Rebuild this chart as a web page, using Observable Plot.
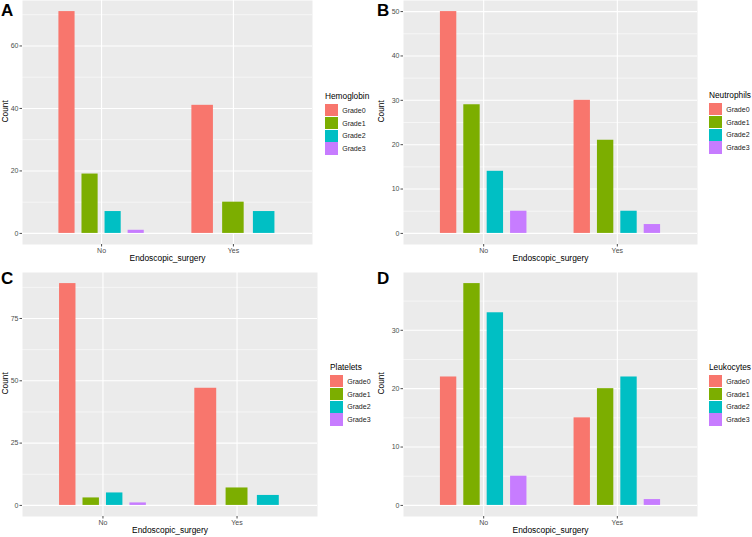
<!DOCTYPE html>
<html>
<head>
<meta charset="utf-8">
<script src="https://cdn.jsdelivr.net/npm/d3@7"></script>
<script src="https://cdn.jsdelivr.net/npm/@observablehq/plot@0.6"></script>
<style>
  html, body { margin: 0; padding: 0; background: #fff; }
  #fig { position: relative; width: 752px; height: 537px; overflow: hidden; font-family: "Liberation Sans", Arial, sans-serif; }
  .panel { position: absolute; width: 376px; }
  .letter { position: absolute; font-weight: bold; font-size: 17px; color: #000; line-height: 1; }
  .legend { position: absolute; font-size: 7px; color: #1a1a1a; }
  .legend .lt { font-size: 8.3px; color: #000; margin-bottom: 3px; white-space: nowrap; }
  .legend .row { display: flex; align-items: center; height: 12.7px; }
  .legend .key { width: 12.7px; height: 12.2px; margin-right: 4.5px; }
</style>
</head>
<body>
<div id="fig"></div>
<script>
// ---- data ----
const groups = ["No", "Yes"];
const grades = ["Grade0", "Grade1", "Grade2", "Grade3"];
const gradeColors = ["#F8766D", "#7CAE00", "#00BFC4", "#C77CFF"];

const hemoglobinNo = [71, 19, 7, 1];
const hemoglobinYes = [41, 10, 7, 0];
const neutrophilsNo = [50, 29, 14, 5];
const neutrophilsYes = [30, 21, 5, 2];
const plateletsNo = [89, 3, 5, 1];
const plateletsYes = [47, 7, 4, 0];
const leukocytesNo = [22, 38, 33, 5];
const leukocytesYes = [15, 20, 22, 1];

const ticksA = [0, 20, 40, 60];
const ticksB = [0, 10, 20, 30, 40, 50];
const ticksC = [0, 25, 50, 75];
const ticksD = [0, 10, 20, 30];

// ggplot-like dodge2 (width 0.7, padding 0.3) over present bars
function dodgeRows(no, yes) {
  const rows = [];
  [no, yes].forEach((vals, gi) => {
    const present = grades.map((g, k) => ({grade: g, count: vals[k]})).filter(d => d.count > 0);
    const n = present.length, slot = 0.7 / n, half = slot * 0.7 / 2;
    present.forEach((d, j) => {
      const c = (gi + 1) - 0.35 + (j + 0.5) * slot;
      rows.push({group: groups[gi], grade: d.grade, count: d.count, x1: c - half, x2: c + half});
    });
  });
  return rows;
}

function minorTicks(major, lo, hi) {
  const step = major[1] - major[0];
  const out = [];
  for (let v = major[0] - step / 2; v <= hi; v += step) if (v >= lo) out.push(v);
  return out;
}

const fig = document.getElementById("fig");

function panel({letter, title, no, yes, ticks, left, top, height, mL, mR, mT, mB, legendX, legendY}) {
  const rows = dodgeRows(no, yes);
  const max = d3.max(rows, d => d.count);
  const lo = -0.05 * max, hi = 1.05 * max;
  const div = document.createElement("div");
  div.className = "panel";
  div.style.left = left + "px";
  div.style.top = top + "px";
  div.style.height = height + "px";
  const chart = Plot.plot({
    width: 376, height,
    marginLeft: mL, marginRight: mR, marginTop: mT, marginBottom: mB,
    style: {fontFamily: "Liberation Sans, Arial, sans-serif", background: "transparent", overflow: "visible"},
    x: {domain: [0.4, 2.6], axis: null},
    y: {domain: [lo, hi], axis: null},
    color: {domain: grades, range: gradeColors},
    marks: [
      Plot.frame({fill: "#EBEBEB", stroke: null}),
      Plot.gridY(minorTicks(ticks, lo, hi), {stroke: "#fff", strokeOpacity: 1, strokeWidth: 0.55}),
      Plot.gridY(ticks, {stroke: "#fff", strokeOpacity: 1, strokeWidth: 1.1}),
      Plot.gridX([1, 2], {stroke: "#fff", strokeOpacity: 1, strokeWidth: 1.1}),
      Plot.rectY(rows, {x1: "x1", x2: "x2", y1: 0, y2: "count", fill: "grade", inset: 0}),
      Plot.axisY(ticks, {tickSize: 2.5, tickPadding: 1.5, fontSize: 7, color: "#4D4D4D", label: null}),
      Plot.axisX([1, 2], {tickFormat: i => groups[i - 1], tickSize: 2.5, tickPadding: 1, fontSize: 7, color: "#4D4D4D", label: null}),
      Plot.text(["Count"], {frameAnchor: "left", rotate: -90, dx: -(mL - 5), fontSize: 8.4, fill: "#000"}),
      Plot.text(["Endoscopic_surgery"], {frameAnchor: "bottom", dy: 16, fontSize: 8.4, fill: "#000"})
    ]
  });
  chart.style.position = "absolute";
  chart.style.left = "0px";
  chart.style.top = "0px";
  div.appendChild(chart);

  const lt = document.createElement("div");
  lt.className = "letter";
  lt.textContent = letter;
  lt.style.left = "1px";
  lt.style.top = "2px";
  div.appendChild(lt);

  const lg = document.createElement("div");
  lg.className = "legend";
  lg.style.left = legendX + "px";
  lg.style.top = legendY + "px";
  const t = document.createElement("div");
  t.className = "lt";
  t.textContent = title;
  lg.appendChild(t);
  grades.forEach((g, k) => {
    const r = document.createElement("div");
    r.className = "row";
    const key = document.createElement("div");
    key.className = "key";
    key.style.background = gradeColors[k];
    const lab = document.createElement("span");
    lab.textContent = g;
    r.appendChild(key);
    r.appendChild(lab);
    lg.appendChild(r);
  });
  div.appendChild(lg);
  fig.appendChild(div);
}

panel({letter: "A", title: "Hemoglobin", no: hemoglobinNo, yes: hemoglobinYes, ticks: ticksA,
  left: 0, top: 0, height: 268, mL: 22, mR: 64, mT: 0, mB: 24, legendX: 325, legendY: 91});
panel({letter: "B", title: "Neutrophils", no: neutrophilsNo, yes: neutrophilsYes, ticks: ticksB,
  left: 376, top: 0, height: 268, mL: 27, mR: 55, mT: 0, mB: 24, legendX: 333, legendY: 90});
panel({letter: "C", title: "Platelets", no: plateletsNo, yes: plateletsYes, ticks: ticksC,
  left: 0, top: 268, height: 269, mL: 22, mR: 59, mT: 4, mB: 21, legendX: 330, legendY: 94});
panel({letter: "D", title: "Leukocytes", no: leukocytesNo, yes: leukocytesYes, ticks: ticksD,
  left: 376, top: 268, height: 269, mL: 27, mR: 55, mT: 4, mB: 21, legendX: 333, legendY: 94});
</script>
</body>
</html>
